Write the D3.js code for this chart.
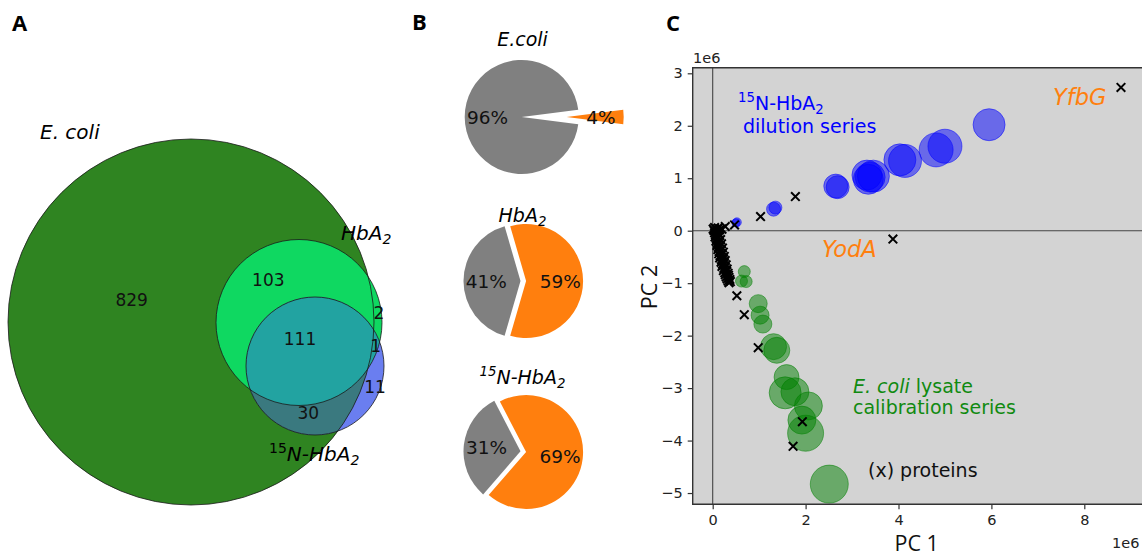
<!DOCTYPE html>
<html><head><meta charset="utf-8">
<script src="https://cdn.jsdelivr.net/npm/d3@7"></script>
<style>body{margin:0;background:#fff}svg{display:block}text{font-family:"DejaVu Sans",sans-serif}</style>
</head><body><svg id="c" width="1142" height="558"></svg>
<script>
// ---------------- DATA ----------------
// Panel A: Venn
const vennSetNames = ["E. coli", "HbA2", "15N-HbA2"];
const vennRegionCounts = [829, 103, 111, 2, 1, 11, 30]; // Eonly, E∩H, E∩H∩N, H only, H∩N, N only, E∩N
// Panel B: pies
const pieTitles = ["E.coli", "HbA2", "15N-HbA2"];
const pieGrey = [96, 41, 31];
const pieOrange = [4, 59, 69];
// Panel C: PCA scatter
const pcXTicks = [0, 2, 4, 6, 8];
const pcYTicks = [-5, -4, -3, -2, -1, 0, 1, 2, 3];
const blueX = [0.52, 0.50, 1.31, 1.35, 2.65, 2.69, 3.32, 3.39, 3.35, 3.46, 4.03, 4.14, 4.81, 5.00, 5.95];
const blueY = [0.16, 0.15, 0.41, 0.44, 0.85, 0.83, 1.06, 1.02, 0.98, 1.04, 1.35, 1.33, 1.54, 1.61, 2.02];
const blueS = [20, 16, 49, 42, 144, 132, 225, 225, 225, 256, 256, 272, 289, 289, 256];
const greenX = [0.68, 0.62, 0.72, 0.98, 1.02, 1.08, 1.31, 1.38, 1.59, 1.56, 1.77, 2.06, 1.92, 2.00, 2.51];
const greenY = [-0.78, -0.96, -0.97, -1.39, -1.61, -1.78, -2.21, -2.28, -2.79, -3.09, -3.07, -3.34, -3.61, -3.86, -4.83];
const greenS = [36, 36, 36, 81, 81, 81, 169, 169, 156, 256, 196, 196, 196, 324, 361];
const protX = [0.47, 1.03, 1.78, 3.88, 8.79, 0.52, 0.68, 0.98, 1.93, 1.73, 0.27, 0.20,
  0.04, 0.12, 0.01, 0.09, 0.15, 0.03, 0.11, 0.04, 0.13, 0.06, 0.15, 0.05, 0.12, 0.08, 0.17,
  0.07, 0.14, 0.10, 0.19, 0.09, 0.16, 0.12, 0.21, 0.11, 0.18, 0.14, 0.23, 0.13, 0.20, 0.16, 0.25,
  0.15, 0.23, 0.19, 0.27, 0.18, 0.25, 0.21, 0.29, 0.20, 0.27, 0.24, 0.31, 0.23, 0.30, 0.26, 0.33,
  0.27, 0.34, 0.29, 0.35, 0.31, 0.37, 0.33, 0.38, 0.35];
const protY = [0.11, 0.27, 0.65, -0.16, 2.73, -1.24, -1.60, -2.23, -3.64, -4.11, 0.08, 0.03,
  0.06, 0.05, 0.03, 0.03, 0.02, 0.00, -0.01, -0.04, -0.05, -0.08, -0.09, -0.12, -0.13, -0.16, -0.17,
  -0.20, -0.21, -0.24, -0.25, -0.28, -0.29, -0.32, -0.33, -0.36, -0.37, -0.40, -0.41, -0.44, -0.45, -0.48, -0.49,
  -0.52, -0.53, -0.56, -0.57, -0.60, -0.61, -0.64, -0.65, -0.68, -0.69, -0.72, -0.73, -0.76, -0.77, -0.80, -0.81,
  -0.84, -0.85, -0.88, -0.89, -0.92, -0.93, -0.96, -0.97, -0.99];

// ---------------- DRAW ----------------
const svg = d3.select("#c");
svg.append("rect").attr("width", 1142).attr("height", 558).attr("fill", "#fff");

function rich(textSel, parts, size) {
  let shift = 0;
  parts.forEach(p => {
    const ts = textSel.append("tspan").text(p.t);
    const target = p.sup ? -0.42 * size : p.sub ? 0.2 * size : 0;
    ts.attr("dy", target - shift); shift = target;
    if (p.sup || p.sub) ts.attr("font-size", size * 0.7);
    if (p.it !== undefined) ts.attr("font-style", p.it ? "italic" : "normal");
  });
}

// panel letters
[["A", 12, 31], ["B", 412, 30], ["C", 666, 31]].forEach(([t, x, y]) =>
  svg.append("text").attr("x", x).attr("y", y).text(t)
    .style("font-family", "'Open Sans',sans-serif").attr("font-weight", "bold").attr("font-size", 22));

// ---------- Panel A ----------
const gA = svg.append("g");
const vennGeom = [{cx: 191, cy: 322, r: 183}, {cx: 299, cy: 322.5, r: 83}, {cx: 315, cy: 366, r: 69}];
const defs = svg.append("defs");
vennGeom.forEach((c, i) => defs.append("clipPath").attr("id", "vc" + i)
  .append("circle").attr("cx", c.cx).attr("cy", c.cy).attr("r", c.r));
const circ = (g, c) => g.append("circle").attr("cx", c.cx).attr("cy", c.cy).attr("r", c.r);
circ(gA, vennGeom[0]).attr("fill", "#2f8421");
circ(gA, vennGeom[1]).attr("fill", "#0fd861");
circ(gA, vennGeom[2]).attr("fill", "#6a7ef0");
circ(gA.append("g").attr("clip-path", "url(#vc0)"), vennGeom[2]).attr("fill", "#3a797f");
circ(gA.append("g").attr("clip-path", "url(#vc1)"), vennGeom[2]).attr("fill", "#22a3a1");
vennGeom.forEach(c => circ(gA, c).attr("fill", "none").attr("stroke", "#1a1a1a").attr("stroke-opacity", 0.8).attr("stroke-width", 1));
const vennLabelPos = [[131.7, 300], [268.3, 280], [300, 339.3], [379, 312.7], [375.7, 345.7], [375, 387.3], [308.3, 412.7]];
vennRegionCounts.forEach((v, i) => gA.append("text").attr("x", vennLabelPos[i][0]).attr("y", vennLabelPos[i][1])
  .attr("text-anchor", "middle").attr("dominant-baseline", "central").attr("font-size", 17).attr("fill", "#111").text(v));
// set labels
rich(gA.append("text").attr("x", 40).attr("y", 139).attr("font-size", 20).attr("font-style", "italic"),
  [{t: vennSetNames[0]}], 20);
rich(gA.append("text").attr("x", 341).attr("y", 240).attr("font-size", 20).attr("font-style", "italic"),
  [{t: "HbA"}, {t: "2", sub: true}], 20);
rich(gA.append("text").attr("x", 269).attr("y", 461).attr("font-size", 20).attr("font-style", "italic"),
  [{t: "15", sup: true, it: false}, {t: "N-HbA", it: true}, {t: "2", sub: true}], 20);

// ---------- Panel B ----------
const gB = svg.append("g");
const pieCenters = [[521.7, 117], [523.3, 281], [523.3, 451.7]];
const pieRot = [0, 0, -6.8];
const pieExplode = [[45, 0], [2.8, 2.8], [2.8, 2.8]];
const titleY = [39, 215, 377];
const R = 57;
const arc = d3.arc().innerRadius(0).outerRadius(R);
const pieColors = ["#ff7f0e", "#808080"];
pieTitles.forEach((t, i) => {
  const vals = [pieOrange[i], pieGrey[i]];
  const oSpan = 2 * Math.PI * pieOrange[i] / 100;
  const start = (90 - pieRot[i]) * Math.PI / 180 - oSpan / 2;
  const arcs = d3.pie().sort(null).startAngle(start).endAngle(start + 2 * Math.PI)(vals);
  const [cx, cy] = pieCenters[i];
  arcs.forEach((a, j) => {
    const mid = (a.startAngle + a.endAngle) / 2;
    const e = pieExplode[i][j];
    const ox = cx + Math.sin(mid) * e, oy = cy - Math.cos(mid) * e;
    gB.append("path").attr("d", arc(a)).attr("transform", `translate(${ox},${oy})`).attr("fill", pieColors[j]);
    gB.append("text").attr("x", ox + Math.sin(mid) * 0.6 * R).attr("y", oy - Math.cos(mid) * 0.6 * R)
      .attr("text-anchor", "middle").attr("dominant-baseline", "central").attr("font-size", 18.5).attr("fill", "#111")
      .text(vals[j] + "%");
  });
  const tt = gB.append("text").attr("x", 522.5).attr("y", titleY[i] + 7).attr("text-anchor", "middle")
    .attr("font-size", 19).attr("font-style", "italic");
  if (i === 0) rich(tt, [{t: t}], 19);
  else if (i === 1) rich(tt, [{t: "HbA"}, {t: "2", sub: true}], 19);
  else rich(tt, [{t: "15", sup: true}, {t: "N-HbA"}, {t: "2", sub: true}], 19);
});

// ---------- Panel C ----------
const gC = svg.append("g");
const L = 692.7, T = 67.7, B = 504.3, RR = 1142;
const x = d3.scaleLinear().domain([0, 8]).range([712.7, 1084.3]);
const y = d3.scaleLinear().domain([0, 3]).range([230.7, 73.3]);
const rS = d3.scaleSqrt().domain([0, 400]).range([0, 20]);
gC.append("rect").attr("x", L).attr("y", T).attr("width", RR - L).attr("height", B - T).attr("fill", "#d3d3d3");
gC.append("line").attr("x1", x(0)).attr("x2", x(0)).attr("y1", T).attr("y2", B).attr("stroke", "#444").attr("stroke-width", 1.1);
gC.append("line").attr("x1", L).attr("x2", RR).attr("y1", y(0)).attr("y2", y(0)).attr("stroke", "#444").attr("stroke-width", 1.1);
blueX.forEach((v, i) => gC.append("circle").attr("cx", x(v)).attr("cy", y(blueY[i])).attr("r", rS(blueS[i]))
  .attr("fill", "#0000ff").attr("fill-opacity", 0.5).attr("stroke", "#0000ff").attr("stroke-opacity", 0.5).attr("stroke-width", 1));
greenX.forEach((v, i) => gC.append("circle").attr("cx", x(v)).attr("cy", y(greenY[i])).attr("r", rS(greenS[i]))
  .attr("fill", "#008000").attr("fill-opacity", 0.5).attr("stroke", "#008000").attr("stroke-opacity", 0.5).attr("stroke-width", 1));
const xm = "M-4.3,-4.3L4.3,4.3M-4.3,4.3L4.3,-4.3";
protX.forEach((v, i) => gC.append("path").attr("d", xm).attr("transform", `translate(${x(v)},${y(protY[i])})`)
  .attr("stroke", "#000").attr("stroke-width", 2).attr("fill", "none"));
// spines
gC.append("path").attr("d", `M${RR},${T}H${L}V${B}H${RR}`).attr("fill", "none").attr("stroke", "#333").attr("stroke-width", 1.4);
// axes
const fmt = d3.format("d");
const ax = gC.append("g").attr("transform", `translate(0,${B})`)
  .call(d3.axisBottom(x).tickValues(pcXTicks).tickFormat(fmt).tickSize(5).tickPadding(5));
const ay = gC.append("g").attr("transform", `translate(${L},0)`)
  .call(d3.axisLeft(y).tickValues(pcYTicks).tickFormat(fmt).tickSize(5).tickPadding(5));
[ax, ay].forEach(a => {
  a.select(".domain").remove();
  a.selectAll("line").attr("stroke", "#333").attr("stroke-width", 1.2);
  a.selectAll("text").attr("font-size", 14.5).attr("fill", "#222").style("font-family", "'DejaVu Sans',sans-serif");
});
gC.append("text").attr("x", 693).attr("y", 63).attr("font-size", 14.5).attr("fill", "#222").text("1e6");
gC.append("text").attr("x", 1112).attr("y", 548).attr("font-size", 14.5).attr("fill", "#222").text("1e6");
gC.append("text").attr("x", 916.7).attr("y", 551).attr("text-anchor", "middle").attr("font-size", 21.5)
  .style("font-family", "'Open Sans',sans-serif").attr("fill", "#111").text("PC 1");
gC.append("text").attr("transform", "translate(657,287) rotate(-90)").attr("text-anchor", "middle").attr("font-size", 21.5)
  .style("font-family", "'Open Sans',sans-serif").attr("fill", "#111").text("PC 2");
// annotations
rich(gC.append("text").attr("x", 738).attr("y", 110).attr("font-size", 19).attr("fill", "#0000ff"),
  [{t: "15", sup: true}, {t: "N-HbA"}, {t: "2", sub: true}], 19);
gC.append("text").attr("x", 743).attr("y", 133).attr("font-size", 19).attr("fill", "#0000ff").text("dilution series");
gC.append("text").attr("x", 1053).attr("y", 105).attr("font-size", 22.5).attr("font-style", "italic").attr("fill", "#ff7f0e").text("YfbG");
gC.append("text").attr("x", 822).attr("y", 257).attr("font-size", 22.5).attr("font-style", "italic").attr("fill", "#ff7f0e").text("YodA");
rich(gC.append("text").attr("x", 853).attr("y", 393).attr("font-size", 19).attr("fill", "#108a10"),
  [{t: "E. coli", it: true}, {t: " lysate", it: false}], 19);
gC.append("text").attr("x", 853).attr("y", 414).attr("font-size", 19).attr("fill", "#108a10").text("calibration series");
gC.append("text").attr("x", 868).attr("y", 477).attr("font-size", 19).attr("fill", "#111").text("(x) proteins");
</script></body></html>
